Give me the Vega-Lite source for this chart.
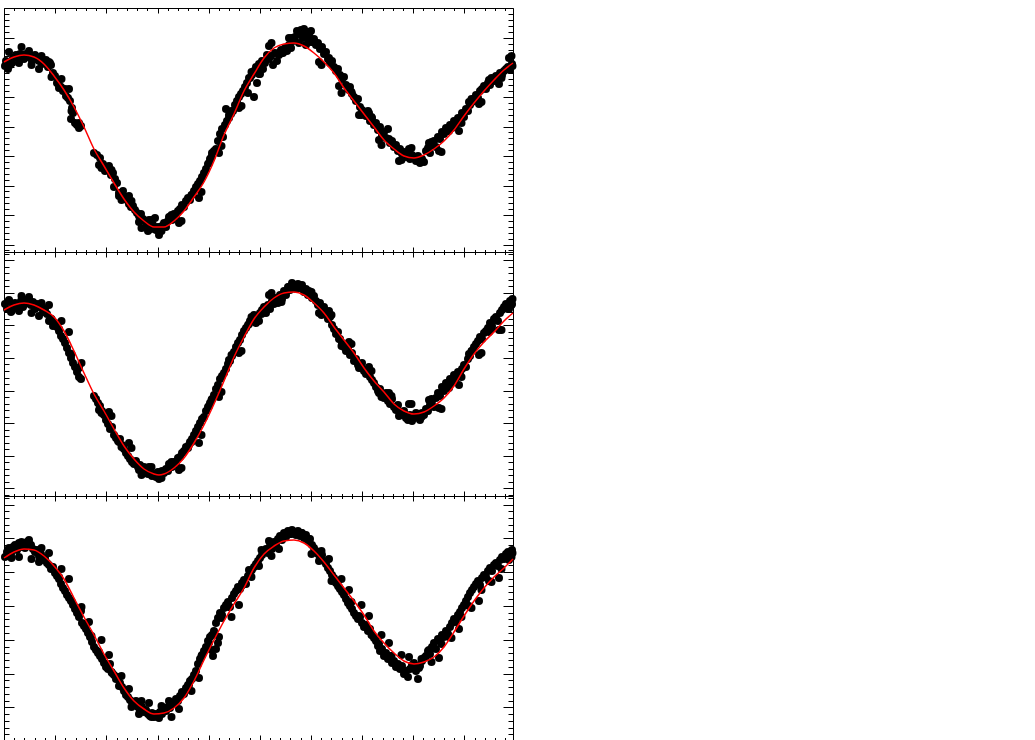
{
"$schema": "https://vega.github.io/schema/vega-lite/v6.json",
"padding": {"left": 0, "top": 7, "right": 0, "bottom": 0},
"bounds": "flush",
"spacing": 0,
"background": "white",
"config": {"view": {"stroke": "#000", "strokeWidth": 1}, "axis": {"domain": false, "labels": false, "grid": false, "ticks": true, "tickColor": "#000", "tickWidth": 1, "title": null}},
"datasets": {
"p1": [{"x":0.002,"y":1.86},{"x":0.004,"y":1.91},{"x":0.008,"y":1.83},{"x":0.012,"y":1.87},{"x":0.016,"y":1.89},{"x":0.018,"y":1.94},{"x":0.024,"y":1.97},{"x":0.028,"y":1.94},{"x":0.032,"y":1.98},{"x":0.036,"y":1.95},{"x":0.040,"y":1.93},{"x":0.044,"y":1.98},{"x":0.048,"y":1.95},{"x":0.052,"y":1.96},{"x":0.056,"y":1.91},{"x":0.060,"y":1.93},{"x":0.062,"y":1.97},{"x":0.066,"y":1.94},{"x":0.070,"y":1.91},{"x":0.074,"y":1.93},{"x":0.076,"y":1.88},{"x":0.080,"y":1.90},{"x":0.084,"y":1.92},{"x":0.088,"y":1.85},{"x":0.092,"y":1.89},{"x":0.094,"y":1.87},
{"x":0.098,"y":1.79},{"x":0.102,"y":1.76},{"x":0.106,"y":1.69},{"x":0.110,"y":1.67},{"x":0.114,"y":1.65},{"x":0.118,"y":1.61},{"x":0.122,"y":1.63},{"x":0.124,"y":1.56},{"x":0.128,"y":1.54},{"x":0.132,"y":1.51},{"x":0.136,"y":1.44},{"x":0.138,"y":1.39},{"x":0.134,"y":1.33},{"x":0.142,"y":1.29},{"x":0.146,"y":1.27},{"x":0.150,"y":1.24},{"x":0.154,"y":1.26},
{"x":0.180,"y":0.99},{"x":0.186,"y":0.97},{"x":0.192,"y":0.94},{"x":0.198,"y":0.88},{"x":0.202,"y":0.81},{"x":0.208,"y":0.83},{"x":0.214,"y":0.77},{"x":0.218,"y":0.79},{"x":0.222,"y":0.73},{"x":0.226,"y":0.69},{"x":0.220,"y":0.65},{"x":0.230,"y":0.59},{"x":0.234,"y":0.56},{"x":0.238,"y":0.61},{"x":0.242,"y":0.54},{"x":0.246,"y":0.52},{"x":0.250,"y":0.48},{"x":0.254,"y":0.45},{"x":0.258,"y":0.46},{"x":0.262,"y":0.42},{"x":0.266,"y":0.39},{"x":0.270,"y":0.36},{"x":0.274,"y":0.38},{"x":0.278,"y":0.33},{"x":0.282,"y":0.31},{"x":0.286,"y":0.28},{"x":0.290,"y":0.25},{"x":0.288,"y":0.21},{"x":0.294,"y":0.23},{"x":0.298,"y":0.27},{"x":0.302,"y":0.34},{"x":0.304,"y":0.22},{"x":0.308,"y":0.25},
{"x":0.312,"y":0.23},{"x":0.316,"y":0.26},{"x":0.320,"y":0.29},{"x":0.324,"y":0.25},{"x":0.328,"y":0.31},{"x":0.332,"y":0.35},{"x":0.336,"y":0.32},{"x":0.340,"y":0.38},{"x":0.344,"y":0.36},{"x":0.348,"y":0.41},{"x":0.352,"y":0.43},{"x":0.356,"y":0.47},{"x":0.360,"y":0.45},{"x":0.364,"y":0.51},{"x":0.368,"y":0.54},{"x":0.372,"y":0.52},{"x":0.376,"y":0.57},{"x":0.380,"y":0.61},{"x":0.384,"y":0.65},{"x":0.388,"y":0.68},{"x":0.392,"y":0.71},{"x":0.396,"y":0.75},{"x":0.400,"y":0.79},{"x":0.404,"y":0.83},{"x":0.408,"y":0.88},{"x":0.412,"y":0.93},{"x":0.416,"y":0.99},{"x":0.420,"y":1.01},{"x":0.424,"y":1.03},
{"x":0.428,"y":1.11},{"x":0.432,"y":1.18},{"x":0.436,"y":1.23},{"x":0.438,"y":1.15},{"x":0.442,"y":1.27},{"x":0.446,"y":1.31},{"x":0.450,"y":1.34},{"x":0.454,"y":1.38},{"x":0.458,"y":1.41},{"x":0.444,"y":1.43},{"x":0.462,"y":1.47},{"x":0.466,"y":1.51},{"x":0.470,"y":1.55},{"x":0.474,"y":1.58},{"x":0.478,"y":1.61},{"x":0.482,"y":1.65},{"x":0.486,"y":1.69},{"x":0.488,"y":1.59},{"x":0.492,"y":1.74},{"x":0.496,"y":1.77},{"x":0.500,"y":1.81},{"x":0.500,"y":1.55},{"x":0.504,"y":1.85},{"x":0.506,"y":1.69},{"x":0.510,"y":1.88},{"x":0.512,"y":1.78},{"x":0.516,"y":1.91},{"x":0.518,"y":1.83},
{"x":0.522,"y":1.89},{"x":0.526,"y":1.97},{"x":0.530,"y":1.93},{"x":0.534,"y":1.96},{"x":0.538,"y":1.87},{"x":0.542,"y":1.99},{"x":0.546,"y":1.91},{"x":0.550,"y":1.97},{"x":0.554,"y":2.02},{"x":0.558,"y":1.99},{"x":0.562,"y":2.04},{"x":0.566,"y":2.01},{"x":0.570,"y":2.07},{"x":0.574,"y":2.04},{"x":0.578,"y":2.11},{"x":0.582,"y":2.15},{"x":0.586,"y":2.21},{"x":0.590,"y":2.09},{"x":0.594,"y":2.22},{"x":0.598,"y":2.14},{"x":0.600,"y":2.23},{"x":0.604,"y":2.07},{"x":0.606,"y":2.20},{"x":0.610,"y":2.17},{"x":0.614,"y":2.21},{"x":0.616,"y":2.10},{"x":0.620,"y":2.13},
{"x":0.624,"y":2.07},{"x":0.628,"y":2.09},{"x":0.632,"y":2.03},{"x":0.636,"y":2.05},{"x":0.640,"y":1.98},{"x":0.644,"y":2.00},{"x":0.648,"y":1.93},{"x":0.652,"y":1.89},{"x":0.656,"y":1.91},{"x":0.660,"y":1.85},{"x":0.664,"y":1.81},{"x":0.668,"y":1.83},{"x":0.672,"y":1.77},{"x":0.676,"y":1.73},{"x":0.680,"y":1.75},{"x":0.684,"y":1.67},{"x":0.688,"y":1.63},{"x":0.692,"y":1.65},{"x":0.696,"y":1.58},{"x":0.700,"y":1.55},{"x":0.704,"y":1.51},{"x":0.708,"y":1.53},{"x":0.712,"y":1.45},{"x":0.716,"y":1.42},{"x":0.720,"y":1.39},
{"x":0.724,"y":1.36},{"x":0.728,"y":1.41},{"x":0.732,"y":1.31},{"x":0.736,"y":1.34},{"x":0.740,"y":1.27},{"x":0.744,"y":1.29},{"x":0.748,"y":1.22},{"x":0.752,"y":1.25},{"x":0.756,"y":1.17},{"x":0.760,"y":1.20},{"x":0.764,"y":1.14},{"x":0.768,"y":1.23},{"x":0.772,"y":1.09},{"x":0.776,"y":1.11},{"x":0.780,"y":1.05},{"x":0.784,"y":1.07},{"x":0.788,"y":1.01},{"x":0.792,"y":1.03},{"x":0.796,"y":0.98},{"x":0.800,"y":1.00},{"x":0.804,"y":0.95},{"x":0.808,"y":0.99},{"x":0.812,"y":0.93},{"x":0.816,"y":0.97},{"x":0.820,"y":0.94},{"x":0.824,"y":0.91},{"x":0.828,"y":0.96},{"x":0.832,"y":0.89},{"x":0.836,"y":0.93},{"x":0.840,"y":0.90},
{"x":0.844,"y":1.01},{"x":0.848,"y":1.04},{"x":0.852,"y":0.99},{"x":0.856,"y":1.07},{"x":0.860,"y":1.11},{"x":0.864,"y":1.05},{"x":0.868,"y":1.15},{"x":0.872,"y":1.13},{"x":0.876,"y":1.20},{"x":0.880,"y":1.18},{"x":0.884,"y":1.24},{"x":0.888,"y":1.21},{"x":0.892,"y":1.27},{"x":0.896,"y":1.24},{"x":0.900,"y":1.31},{"x":0.904,"y":1.27},{"x":0.908,"y":1.34},{"x":0.912,"y":1.31},{"x":0.916,"y":1.39},{"x":0.920,"y":1.35},{"x":0.924,"y":1.43},{"x":0.928,"y":1.41},{"x":0.932,"y":1.47},{"x":0.936,"y":1.50},{"x":0.940,"y":1.53},
{"x":0.944,"y":1.57},{"x":0.948,"y":1.54},{"x":0.952,"y":1.61},{"x":0.956,"y":1.63},{"x":0.960,"y":1.66},{"x":0.964,"y":1.63},{"x":0.968,"y":1.69},{"x":0.972,"y":1.67},{"x":0.976,"y":1.73},{"x":0.980,"y":1.71},{"x":0.984,"y":1.76},{"x":0.988,"y":1.74},{"x":0.992,"y":1.79},{"x":0.996,"y":1.77},{"x":1.000,"y":1.81},{"x":1.004,"y":1.83},{"x":1.008,"y":1.85},{"x":1.012,"y":1.82},{"x":1.016,"y":1.88},{"x":1.017,"y":1.86},
{"x":0.01,"y":2.00},{"x":0.03,"y":1.89},{"x":0.05,"y":2.01},{"x":0.07,"y":1.83},{"x":0.09,"y":1.90},{"x":0.11,"y":1.64},{"x":0.13,"y":1.63},{"x":0.15,"y":1.29},{"x":0.19,"y":0.87},{"x":0.21,"y":0.86},{"x":0.23,"y":0.56},{"x":0.25,"y":0.56},{"x":0.27,"y":0.30},{"x":0.29,"y":0.32},{"x":0.31,"y":0.17},{"x":0.33,"y":0.35},{"x":0.35,"y":0.29},{"x":0.37,"y":0.53},{"x":0.39,"y":0.54},{"x":0.41,"y":0.89},{"x":0.43,"y":0.99},{"x":0.45,"y":1.37},{"x":0.47,"y":1.44},{"x":0.49,"y":1.74},{"x":0.51,"y":1.78},{"x":0.53,"y":2.06},{"x":0.55,"y":1.99},{"x":0.57,"y":2.14},{"x":0.59,"y":2.20},{"x":0.61,"y":2.11},{"x":0.63,"y":1.90},{"x":0.65,"y":1.94},{"x":0.67,"y":1.66},{"x":0.69,"y":1.62},{"x":0.71,"y":1.37},{"x":0.73,"y":1.39},{"x":0.75,"y":1.12},{"x":0.77,"y":1.13},{"x":0.79,"y":0.91},{"x":0.81,"y":1.03},{"x":0.83,"y":0.91},{"x":0.85,"y":1.09},{"x":0.87,"y":1.01},{"x":0.89,"y":1.21},{"x":0.91,"y":1.21},{"x":0.93,"y":1.50},{"x":0.95,"y":1.48},{"x":0.97,"y":1.72},{"x":0.99,"y":1.68},{"x":1.01,"y":1.94},
{"x":0.015,"y":1.89},{"x":0.035,"y":2.05},{"x":0.055,"y":1.87},{"x":0.075,"y":1.96},{"x":0.095,"y":1.75},{"x":0.115,"y":1.73},{"x":0.135,"y":1.41},{"x":0.195,"y":0.84},{"x":0.215,"y":0.82},{"x":0.235,"y":0.52},{"x":0.255,"y":0.51},{"x":0.275,"y":0.24},{"x":0.295,"y":0.32},{"x":0.315,"y":0.21},{"x":0.335,"y":0.37},{"x":0.355,"y":0.31},{"x":0.375,"y":0.57},{"x":0.395,"y":0.60},{"x":0.415,"y":0.95},{"x":0.435,"y":1.06},{"x":0.455,"y":1.41},{"x":0.475,"y":1.46},{"x":0.495,"y":1.80},{"x":0.515,"y":1.86},{"x":0.535,"y":2.09},{"x":0.555,"y":1.99},{"x":0.575,"y":2.14},{"x":0.595,"y":2.17},{"x":0.615,"y":2.10},{"x":0.635,"y":1.87},{"x":0.655,"y":1.90},{"x":0.675,"y":1.59},{"x":0.695,"y":1.60},{"x":0.715,"y":1.37},{"x":0.735,"y":1.35},{"x":0.755,"y":1.07},{"x":0.775,"y":1.10},{"x":0.795,"y":0.92},{"x":0.815,"y":1.04},{"x":0.835,"y":0.91},{"x":0.855,"y":1.10},{"x":0.875,"y":1.00},{"x":0.895,"y":1.25},{"x":0.915,"y":1.29},{"x":0.935,"y":1.53},{"x":0.955,"y":1.50},{"x":0.975,"y":1.74},{"x":0.995,"y":1.74},{"x":1.015,"y":1.96}],
"p2": [{"x":0.002,"y":1.92},{"x":0.006,"y":1.87},{"x":0.010,"y":1.95},{"x":0.014,"y":1.84},{"x":0.018,"y":1.90},{"x":0.022,"y":1.93},{"x":0.026,"y":1.88},{"x":0.030,"y":1.91},{"x":0.034,"y":1.95},{"x":0.038,"y":1.89},{"x":0.042,"y":1.92},{"x":0.046,"y":1.96},{"x":0.050,"y":1.99},{"x":0.054,"y":1.91},{"x":0.058,"y":1.94},{"x":0.062,"y":1.87},{"x":0.066,"y":1.92},{"x":0.070,"y":1.89},{"x":0.074,"y":1.91},{"x":0.078,"y":1.84},{"x":0.082,"y":1.87},{"x":0.086,"y":1.82},{"x":0.090,"y":1.75},{"x":0.094,"y":1.77},{"x":0.098,"y":1.70},
{"x":0.102,"y":1.73},{"x":0.106,"y":1.69},{"x":0.110,"y":1.65},{"x":0.114,"y":1.60},{"x":0.118,"y":1.57},{"x":0.122,"y":1.53},{"x":0.126,"y":1.48},{"x":0.130,"y":1.43},{"x":0.134,"y":1.38},{"x":0.138,"y":1.33},{"x":0.142,"y":1.29},{"x":0.146,"y":1.24},{"x":0.150,"y":1.19},{"x":0.154,"y":1.17},
{"x":0.180,"y":1.00},{"x":0.184,"y":0.97},{"x":0.188,"y":0.93},{"x":0.192,"y":0.90},{"x":0.196,"y":0.85},{"x":0.200,"y":0.81},{"x":0.204,"y":0.76},{"x":0.208,"y":0.72},{"x":0.212,"y":0.67},{"x":0.216,"y":0.69},{"x":0.220,"y":0.61},{"x":0.224,"y":0.58},{"x":0.228,"y":0.55},{"x":0.232,"y":0.57},{"x":0.236,"y":0.51},{"x":0.240,"y":0.47},{"x":0.244,"y":0.43},{"x":0.248,"y":0.40},{"x":0.252,"y":0.37},{"x":0.256,"y":0.34},{"x":0.260,"y":0.32},{"x":0.264,"y":0.35},{"x":0.268,"y":0.29},{"x":0.272,"y":0.31},{"x":0.276,"y":0.27},{"x":0.280,"y":0.29},{"x":0.284,"y":0.25},{"x":0.288,"y":0.22},{"x":0.292,"y":0.24},{"x":0.296,"y":0.20},{"x":0.300,"y":0.22},
{"x":0.304,"y":0.19},{"x":0.308,"y":0.24},{"x":0.312,"y":0.21},{"x":0.316,"y":0.25},{"x":0.320,"y":0.23},{"x":0.324,"y":0.27},{"x":0.328,"y":0.25},{"x":0.332,"y":0.30},{"x":0.336,"y":0.29},{"x":0.340,"y":0.34},{"x":0.344,"y":0.33},{"x":0.348,"y":0.38},{"x":0.352,"y":0.39},{"x":0.356,"y":0.43},{"x":0.360,"y":0.45},{"x":0.364,"y":0.49},{"x":0.368,"y":0.48},{"x":0.372,"y":0.54},{"x":0.376,"y":0.57},{"x":0.380,"y":0.61},{"x":0.384,"y":0.65},{"x":0.388,"y":0.69},{"x":0.392,"y":0.73},{"x":0.396,"y":0.77},{"x":0.400,"y":0.79},{"x":0.404,"y":0.85},{"x":0.408,"y":0.89},{"x":0.412,"y":0.93},{"x":0.416,"y":0.97},{"x":0.420,"y":1.01},{"x":0.424,"y":1.07},
{"x":0.428,"y":1.11},{"x":0.432,"y":1.17},{"x":0.436,"y":1.20},{"x":0.440,"y":1.23},{"x":0.444,"y":1.27},{"x":0.448,"y":1.32},{"x":0.452,"y":1.35},{"x":0.456,"y":1.40},{"x":0.460,"y":1.44},{"x":0.464,"y":1.49},{"x":0.468,"y":1.53},{"x":0.472,"y":1.56},{"x":0.476,"y":1.61},{"x":0.480,"y":1.65},{"x":0.484,"y":1.68},{"x":0.488,"y":1.71},{"x":0.492,"y":1.75},{"x":0.496,"y":1.78},{"x":0.500,"y":1.81},{"x":0.504,"y":1.73},{"x":0.508,"y":1.77},{"x":0.512,"y":1.83},{"x":0.516,"y":1.86},{"x":0.520,"y":1.89},
{"x":0.524,"y":1.83},{"x":0.528,"y":1.91},{"x":0.532,"y":1.87},{"x":0.536,"y":1.95},{"x":0.540,"y":1.92},{"x":0.544,"y":1.98},{"x":0.548,"y":1.93},{"x":0.552,"y":2.01},{"x":0.556,"y":1.97},{"x":0.560,"y":2.05},{"x":0.564,"y":2.01},{"x":0.568,"y":2.09},{"x":0.572,"y":2.06},{"x":0.576,"y":2.13},{"x":0.580,"y":2.10},{"x":0.584,"y":2.07},{"x":0.588,"y":2.12},{"x":0.592,"y":2.08},{"x":0.596,"y":2.11},{"x":0.600,"y":2.04},{"x":0.604,"y":2.07},{"x":0.608,"y":2.01},{"x":0.612,"y":2.04},{"x":0.616,"y":1.98},{"x":0.620,"y":2.00},
{"x":0.624,"y":1.95},{"x":0.628,"y":1.91},{"x":0.632,"y":1.93},{"x":0.636,"y":1.87},{"x":0.640,"y":1.89},{"x":0.644,"y":1.82},{"x":0.648,"y":1.77},{"x":0.652,"y":1.79},{"x":0.656,"y":1.71},{"x":0.660,"y":1.67},{"x":0.664,"y":1.62},{"x":0.668,"y":1.64},{"x":0.672,"y":1.57},{"x":0.676,"y":1.53},{"x":0.680,"y":1.49},{"x":0.684,"y":1.45},{"x":0.688,"y":1.47},{"x":0.692,"y":1.41},{"x":0.696,"y":1.43},{"x":0.700,"y":1.35},{"x":0.704,"y":1.37},{"x":0.708,"y":1.31},{"x":0.712,"y":1.29},{"x":0.716,"y":1.33},{"x":0.720,"y":1.25},{"x":0.724,"y":1.22},{"x":0.728,"y":1.27},{"x":0.732,"y":1.19},{"x":0.736,"y":1.16},{"x":0.740,"y":1.13},
{"x":0.744,"y":1.09},{"x":0.748,"y":1.05},{"x":0.752,"y":1.07},{"x":0.756,"y":1.01},{"x":0.760,"y":0.98},{"x":0.764,"y":1.03},{"x":0.768,"y":0.95},{"x":0.772,"y":0.92},{"x":0.776,"y":0.97},{"x":0.780,"y":0.89},{"x":0.784,"y":0.86},{"x":0.788,"y":0.91},{"x":0.792,"y":0.84},{"x":0.796,"y":0.81},{"x":0.800,"y":0.85},{"x":0.804,"y":0.78},{"x":0.808,"y":0.76},{"x":0.812,"y":0.81},{"x":0.816,"y":0.75},{"x":0.820,"y":0.78},{"x":0.824,"y":0.83},{"x":0.828,"y":0.79},{"x":0.832,"y":0.76},{"x":0.836,"y":0.83},{"x":0.840,"y":0.81},{"x":0.844,"y":0.87},{"x":0.848,"y":0.85},
{"x":0.852,"y":0.91},{"x":0.856,"y":0.95},{"x":0.860,"y":0.89},{"x":0.864,"y":0.98},{"x":0.868,"y":1.03},{"x":0.872,"y":1.00},{"x":0.876,"y":1.09},{"x":0.880,"y":1.05},{"x":0.884,"y":1.13},{"x":0.888,"y":1.10},{"x":0.892,"y":1.17},{"x":0.896,"y":1.14},{"x":0.900,"y":1.21},{"x":0.904,"y":1.18},{"x":0.908,"y":1.24},{"x":0.912,"y":1.22},{"x":0.916,"y":1.27},{"x":0.920,"y":1.31},{"x":0.924,"y":1.29},{"x":0.928,"y":1.37},{"x":0.932,"y":1.40},{"x":0.936,"y":1.45},{"x":0.940,"y":1.49},
{"x":0.944,"y":1.52},{"x":0.948,"y":1.55},{"x":0.952,"y":1.59},{"x":0.956,"y":1.57},{"x":0.960,"y":1.63},{"x":0.964,"y":1.65},{"x":0.968,"y":1.68},{"x":0.972,"y":1.73},{"x":0.976,"y":1.70},{"x":0.980,"y":1.77},{"x":0.984,"y":1.79},{"x":0.988,"y":1.75},{"x":0.992,"y":1.83},{"x":0.996,"y":1.86},{"x":1.000,"y":1.89},{"x":1.004,"y":1.92},{"x":1.008,"y":1.87},{"x":1.012,"y":1.95},{"x":1.016,"y":1.92},{"x":1.017,"y":1.97},
{"x":0.01,"y":1.96},{"x":0.03,"y":1.85},{"x":0.05,"y":1.97},{"x":0.07,"y":1.80},{"x":0.09,"y":1.91},{"x":0.11,"y":1.67},{"x":0.13,"y":1.64},{"x":0.15,"y":1.28},{"x":0.19,"y":0.86},{"x":0.21,"y":0.84},{"x":0.23,"y":0.54},{"x":0.25,"y":0.53},{"x":0.27,"y":0.26},{"x":0.29,"y":0.29},{"x":0.31,"y":0.17},{"x":0.33,"y":0.32},{"x":0.35,"y":0.26},{"x":0.37,"y":0.51},{"x":0.39,"y":0.53},{"x":0.41,"y":0.90},{"x":0.43,"y":0.99},{"x":0.45,"y":1.36},{"x":0.47,"y":1.43},{"x":0.49,"y":1.72},{"x":0.51,"y":1.75},{"x":0.53,"y":2.01},{"x":0.55,"y":1.94},{"x":0.57,"y":2.09},{"x":0.59,"y":2.11},{"x":0.61,"y":2.05},{"x":0.63,"y":1.83},{"x":0.65,"y":1.85},{"x":0.67,"y":1.57},{"x":0.69,"y":1.54},{"x":0.71,"y":1.28},{"x":0.73,"y":1.29},{"x":0.75,"y":1.03},{"x":0.77,"y":1.03},{"x":0.79,"y":0.80},{"x":0.81,"y":0.92},{"x":0.83,"y":0.78},{"x":0.85,"y":0.96},{"x":0.87,"y":0.88},{"x":0.89,"y":1.08},{"x":0.91,"y":1.11},{"x":0.93,"y":1.42},{"x":0.95,"y":1.41},{"x":0.97,"y":1.64},{"x":0.99,"y":1.66},{"x":1.01,"y":1.87},
{"x":0.015,"y":1.85},{"x":0.035,"y":2.00},{"x":0.055,"y":1.83},{"x":0.075,"y":1.93},{"x":0.095,"y":1.77},{"x":0.115,"y":1.75},{"x":0.135,"y":1.42},{"x":0.155,"y":1.33},{"x":0.195,"y":0.83},{"x":0.215,"y":0.80},{"x":0.235,"y":0.49},{"x":0.255,"y":0.48},{"x":0.275,"y":0.21},{"x":0.295,"y":0.29},{"x":0.315,"y":0.18},{"x":0.335,"y":0.34},{"x":0.355,"y":0.28},{"x":0.375,"y":0.54},{"x":0.395,"y":0.61},{"x":0.415,"y":0.96},{"x":0.435,"y":1.04},{"x":0.455,"y":1.41},{"x":0.475,"y":1.45},{"x":0.495,"y":1.79},{"x":0.515,"y":1.82},{"x":0.535,"y":2.03},{"x":0.555,"y":1.94},{"x":0.575,"y":2.09},{"x":0.595,"y":2.08},{"x":0.615,"y":2.04},{"x":0.635,"y":1.81},{"x":0.655,"y":1.81},{"x":0.675,"y":1.50},{"x":0.695,"y":1.52},{"x":0.715,"y":1.28},{"x":0.735,"y":1.25},{"x":0.755,"y":0.99},{"x":0.775,"y":1.00},{"x":0.795,"y":0.81},{"x":0.815,"y":0.92},{"x":0.835,"y":0.79},{"x":0.855,"y":0.97},{"x":0.875,"y":0.87},{"x":0.895,"y":1.13},{"x":0.915,"y":1.19},{"x":0.935,"y":1.45},{"x":0.955,"y":1.43},{"x":0.975,"y":1.67},{"x":0.995,"y":1.66},{"x":1.015,"y":1.91}],
"p3": [{"x":0.002,"y":1.83},{"x":0.006,"y":1.88},{"x":0.010,"y":1.91},{"x":0.014,"y":1.86},{"x":0.018,"y":1.93},{"x":0.022,"y":1.95},{"x":0.026,"y":1.90},{"x":0.030,"y":1.97},{"x":0.034,"y":1.93},{"x":0.038,"y":1.96},{"x":0.042,"y":1.92},{"x":0.046,"y":1.98},{"x":0.050,"y":2.00},{"x":0.054,"y":1.95},{"x":0.058,"y":1.91},{"x":0.062,"y":1.88},{"x":0.066,"y":1.90},{"x":0.070,"y":1.84},{"x":0.074,"y":1.86},{"x":0.078,"y":1.80},{"x":0.082,"y":1.82},{"x":0.086,"y":1.77},{"x":0.090,"y":1.75},{"x":0.094,"y":1.71},{"x":0.098,"y":1.73},
{"x":0.102,"y":1.67},{"x":0.106,"y":1.64},{"x":0.110,"y":1.61},{"x":0.114,"y":1.56},{"x":0.118,"y":1.52},{"x":0.122,"y":1.49},{"x":0.126,"y":1.45},{"x":0.130,"y":1.42},{"x":0.134,"y":1.39},{"x":0.138,"y":1.35},{"x":0.142,"y":1.31},{"x":0.146,"y":1.27},{"x":0.150,"y":1.23},{"x":0.154,"y":1.29},{"x":0.156,"y":1.17},{"x":0.160,"y":1.14},{"x":0.164,"y":1.11},{"x":0.168,"y":1.07},{"x":0.172,"y":1.03},{"x":0.176,"y":0.98},{"x":0.180,"y":0.93},{"x":0.184,"y":0.90},{"x":0.188,"y":0.87},{"x":0.192,"y":0.84},{"x":0.196,"y":0.81},
{"x":0.200,"y":0.77},{"x":0.204,"y":0.73},{"x":0.208,"y":0.71},{"x":0.212,"y":0.76},{"x":0.216,"y":0.67},{"x":0.220,"y":0.65},{"x":0.224,"y":0.61},{"x":0.228,"y":0.63},{"x":0.232,"y":0.57},{"x":0.236,"y":0.53},{"x":0.240,"y":0.49},{"x":0.244,"y":0.45},{"x":0.248,"y":0.43},{"x":0.252,"y":0.40},{"x":0.256,"y":0.38},{"x":0.260,"y":0.36},{"x":0.264,"y":0.39},{"x":0.268,"y":0.33},{"x":0.272,"y":0.30},{"x":0.276,"y":0.33},{"x":0.280,"y":0.28},{"x":0.284,"y":0.30},{"x":0.288,"y":0.26},{"x":0.292,"y":0.24},{"x":0.296,"y":0.27},{"x":0.300,"y":0.23},
{"x":0.304,"y":0.26},{"x":0.308,"y":0.23},{"x":0.312,"y":0.28},{"x":0.316,"y":0.26},{"x":0.320,"y":0.30},{"x":0.324,"y":0.29},{"x":0.328,"y":0.33},{"x":0.332,"y":0.32},{"x":0.336,"y":0.37},{"x":0.340,"y":0.36},{"x":0.344,"y":0.41},{"x":0.348,"y":0.39},{"x":0.352,"y":0.44},{"x":0.356,"y":0.48},{"x":0.360,"y":0.46},{"x":0.364,"y":0.52},{"x":0.368,"y":0.55},{"x":0.372,"y":0.59},{"x":0.376,"y":0.61},{"x":0.380,"y":0.65},{"x":0.384,"y":0.69},{"x":0.388,"y":0.76},{"x":0.392,"y":0.81},{"x":0.396,"y":0.85},{"x":0.400,"y":0.89},{"x":0.404,"y":0.93},{"x":0.408,"y":0.99},{"x":0.412,"y":1.03},{"x":0.416,"y":1.05},{"x":0.420,"y":1.09},{"x":0.424,"y":0.91},{"x":0.428,"y":0.97},{"x":0.418,"y":0.84},
{"x":0.424,"y":1.17},{"x":0.428,"y":1.22},{"x":0.432,"y":1.27},{"x":0.436,"y":1.25},{"x":0.440,"y":1.32},{"x":0.444,"y":1.35},{"x":0.448,"y":1.38},{"x":0.452,"y":1.33},{"x":0.456,"y":1.42},{"x":0.460,"y":1.46},{"x":0.464,"y":1.49},{"x":0.468,"y":1.53},{"x":0.472,"y":1.51},{"x":0.476,"y":1.57},{"x":0.480,"y":1.60},{"x":0.484,"y":1.56},{"x":0.488,"y":1.64},{"x":0.492,"y":1.67},{"x":0.496,"y":1.70},{"x":0.500,"y":1.73},{"x":0.504,"y":1.76},{"x":0.508,"y":1.79},{"x":0.512,"y":1.82},{"x":0.516,"y":1.85},{"x":0.520,"y":1.88},
{"x":0.524,"y":1.91},{"x":0.528,"y":1.87},{"x":0.532,"y":1.94},{"x":0.536,"y":1.91},{"x":0.540,"y":1.98},{"x":0.544,"y":1.95},{"x":0.548,"y":2.01},{"x":0.552,"y":2.04},{"x":0.556,"y":2.00},{"x":0.560,"y":2.07},{"x":0.564,"y":2.03},{"x":0.568,"y":2.09},{"x":0.572,"y":2.06},{"x":0.576,"y":2.10},{"x":0.580,"y":2.08},{"x":0.584,"y":2.05},{"x":0.588,"y":2.09},{"x":0.592,"y":2.04},{"x":0.596,"y":2.07},{"x":0.600,"y":2.02},{"x":0.604,"y":2.05},{"x":0.608,"y":1.99},{"x":0.612,"y":2.01},{"x":0.616,"y":1.95},{"x":0.620,"y":1.92},
{"x":0.624,"y":1.89},{"x":0.628,"y":1.86},{"x":0.632,"y":1.83},{"x":0.636,"y":1.85},{"x":0.640,"y":1.79},{"x":0.644,"y":1.76},{"x":0.648,"y":1.72},{"x":0.652,"y":1.69},{"x":0.656,"y":1.65},{"x":0.660,"y":1.62},{"x":0.664,"y":1.57},{"x":0.668,"y":1.54},{"x":0.672,"y":1.51},{"x":0.676,"y":1.48},{"x":0.680,"y":1.45},{"x":0.684,"y":1.41},{"x":0.688,"y":1.37},{"x":0.692,"y":1.34},{"x":0.696,"y":1.31},{"x":0.700,"y":1.27},{"x":0.704,"y":1.24},{"x":0.708,"y":1.21},{"x":0.712,"y":1.23},{"x":0.716,"y":1.17},{"x":0.720,"y":1.13},{"x":0.724,"y":1.15},{"x":0.728,"y":1.09},{"x":0.732,"y":1.11},{"x":0.736,"y":1.05},{"x":0.740,"y":1.02},
{"x":0.744,"y":0.99},{"x":0.748,"y":0.94},{"x":0.752,"y":0.89},{"x":0.756,"y":0.91},{"x":0.760,"y":0.84},{"x":0.764,"y":0.87},{"x":0.768,"y":0.81},{"x":0.772,"y":0.84},{"x":0.776,"y":0.77},{"x":0.780,"y":0.79},{"x":0.784,"y":0.73},{"x":0.788,"y":0.76},{"x":0.792,"y":0.71},{"x":0.796,"y":0.74},{"x":0.800,"y":0.66},{"x":0.804,"y":0.69},{"x":0.808,"y":0.63},{"x":0.812,"y":0.71},{"x":0.816,"y":0.75},{"x":0.820,"y":0.77},{"x":0.824,"y":0.69},{"x":0.828,"y":0.61},{"x":0.832,"y":0.74},{"x":0.836,"y":0.79},{"x":0.840,"y":0.82},
{"x":0.844,"y":0.84},{"x":0.848,"y":0.89},{"x":0.852,"y":0.86},{"x":0.856,"y":0.93},{"x":0.860,"y":0.97},{"x":0.864,"y":0.91},{"x":0.868,"y":1.01},{"x":0.872,"y":0.99},{"x":0.876,"y":1.05},{"x":0.880,"y":1.03},{"x":0.884,"y":1.09},{"x":0.888,"y":1.06},{"x":0.892,"y":1.13},{"x":0.896,"y":1.17},{"x":0.900,"y":1.21},{"x":0.904,"y":1.18},{"x":0.908,"y":1.25},{"x":0.912,"y":1.28},{"x":0.916,"y":1.32},{"x":0.920,"y":1.35},{"x":0.924,"y":1.39},{"x":0.928,"y":1.43},{"x":0.932,"y":1.47},{"x":0.936,"y":1.50},{"x":0.940,"y":1.53},
{"x":0.944,"y":1.56},{"x":0.948,"y":1.59},{"x":0.952,"y":1.55},{"x":0.956,"y":1.62},{"x":0.960,"y":1.65},{"x":0.964,"y":1.63},{"x":0.968,"y":1.69},{"x":0.972,"y":1.72},{"x":0.976,"y":1.69},{"x":0.980,"y":1.75},{"x":0.984,"y":1.77},{"x":0.988,"y":1.74},{"x":0.992,"y":1.80},{"x":0.996,"y":1.83},{"x":1.000,"y":1.81},{"x":1.004,"y":1.86},{"x":1.008,"y":1.88},{"x":1.012,"y":1.85},{"x":1.016,"y":1.90},{"x":1.017,"y":1.87},
{"x":0.01,"y":1.92},{"x":0.03,"y":1.83},{"x":0.05,"y":1.96},{"x":0.07,"y":1.78},{"x":0.09,"y":1.87},{"x":0.11,"y":1.63},{"x":0.13,"y":1.61},{"x":0.15,"y":1.27},{"x":0.17,"y":1.18},{"x":0.19,"y":0.88},{"x":0.21,"y":0.85},{"x":0.23,"y":0.54},{"x":0.25,"y":0.51},{"x":0.27,"y":0.26},{"x":0.29,"y":0.37},{"x":0.31,"y":0.22},{"x":0.33,"y":0.39},{"x":0.35,"y":0.31},{"x":0.37,"y":0.55},{"x":0.39,"y":0.62},{"x":0.41,"y":0.97},{"x":0.43,"y":1.03},{"x":0.45,"y":1.33},{"x":0.47,"y":1.35},{"x":0.49,"y":1.70},{"x":0.51,"y":1.74},{"x":0.53,"y":1.99},{"x":0.55,"y":1.91},{"x":0.57,"y":2.06},{"x":0.59,"y":2.06},{"x":0.61,"y":2.01},{"x":0.63,"y":1.79},{"x":0.65,"y":1.81},{"x":0.67,"y":1.53},{"x":0.69,"y":1.50},{"x":0.71,"y":1.24},{"x":0.73,"y":1.24},{"x":0.75,"y":0.96},{"x":0.77,"y":0.97},{"x":0.79,"y":0.74},{"x":0.81,"y":0.83},{"x":0.83,"y":0.72},{"x":0.85,"y":0.90},{"x":0.87,"y":0.82},{"x":0.89,"y":1.03},{"x":0.91,"y":1.11},{"x":0.93,"y":1.34},{"x":0.95,"y":1.39},{"x":0.97,"y":1.59},{"x":0.99,"y":1.62},{"x":1.01,"y":1.80},
{"x":0.015,"y":1.82},{"x":0.035,"y":1.98},{"x":0.055,"y":1.81},{"x":0.075,"y":1.92},{"x":0.095,"y":1.73},{"x":0.115,"y":1.71},{"x":0.135,"y":1.39},{"x":0.155,"y":1.33},{"x":0.175,"y":1.04},{"x":0.195,"y":1.00},{"x":0.215,"y":0.68},{"x":0.235,"y":0.64},{"x":0.255,"y":0.33},{"x":0.275,"y":0.39},{"x":0.295,"y":0.23},{"x":0.315,"y":0.34},{"x":0.335,"y":0.23},{"x":0.355,"y":0.45},{"x":0.375,"y":0.49},{"x":0.395,"y":0.84},{"x":0.415,"y":0.90},{"x":0.435,"y":1.22},{"x":0.455,"y":1.23},{"x":0.475,"y":1.54},{"x":0.495,"y":1.63},{"x":0.515,"y":1.90},{"x":0.535,"y":1.84},{"x":0.555,"y":2.03},{"x":0.575,"y":2.06},{"x":0.595,"y":2.07},{"x":0.615,"y":1.86},{"x":0.635,"y":1.89},{"x":0.655,"y":1.59},{"x":0.675,"y":1.61},{"x":0.695,"y":1.38},{"x":0.715,"y":1.35},{"x":0.735,"y":1.05},{"x":0.755,"y":1.05},{"x":0.775,"y":0.84},{"x":0.795,"y":0.85},{"x":0.815,"y":0.72},{"x":0.835,"y":0.81},{"x":0.855,"y":0.78},{"x":0.875,"y":0.96},{"x":0.895,"y":1.02},{"x":0.915,"y":1.23},{"x":0.935,"y":1.32},{"x":0.955,"y":1.50},{"x":0.975,"y":1.58},{"x":0.995,"y":1.71},{"x":1.015,"y":1.83}],
"m1": [{"x":0,"y":1.90},{"x":0.02,"y":1.95},{"x":0.04,"y":1.97},{"x":0.06,"y":1.95},{"x":0.08,"y":1.88},{"x":0.10,"y":1.76},{"x":0.12,"y":1.62},{"x":0.14,"y":1.45},{"x":0.16,"y":1.25},{"x":0.18,"y":1.03},{"x":0.20,"y":0.86},{"x":0.22,"y":0.69},{"x":0.24,"y":0.53},{"x":0.26,"y":0.40},{"x":0.28,"y":0.31},{"x":0.30,"y":0.25},{"x":0.32,"y":0.25},{"x":0.34,"y":0.31},{"x":0.36,"y":0.41},{"x":0.38,"y":0.55},{"x":0.40,"y":0.70},{"x":0.42,"y":0.91},{"x":0.44,"y":1.17},{"x":0.46,"y":1.38},{"x":0.48,"y":1.61},{"x":0.50,"y":1.78},{"x":0.52,"y":1.94},{"x":0.54,"y":2.04},{"x":0.56,"y":2.08},{"x":0.58,"y":2.09},{"x":0.60,"y":2.06},{"x":0.62,"y":1.99},{"x":0.64,"y":1.90},{"x":0.66,"y":1.79},{"x":0.68,"y":1.64},{"x":0.70,"y":1.51},{"x":0.72,"y":1.38},{"x":0.74,"y":1.25},{"x":0.76,"y":1.12},{"x":0.78,"y":1.03},{"x":0.80,"y":0.96},{"x":0.82,"y":0.94},{"x":0.84,"y":0.97},{"x":0.86,"y":1.03},{"x":0.88,"y":1.11},{"x":0.90,"y":1.22},{"x":0.92,"y":1.36},{"x":0.94,"y":1.49},{"x":0.96,"y":1.61},{"x":0.98,"y":1.72},{"x":1.00,"y":1.82},{"x":1.018,"y":1.89}],
"m2": [{"x":0,"y":1.86},{"x":0.02,"y":1.91},{"x":0.04,"y":1.93},{"x":0.06,"y":1.91},{"x":0.08,"y":1.86},{"x":0.10,"y":1.79},{"x":0.12,"y":1.65},{"x":0.14,"y":1.45},{"x":0.16,"y":1.23},{"x":0.18,"y":1.02},{"x":0.20,"y":0.85},{"x":0.22,"y":0.67},{"x":0.24,"y":0.50},{"x":0.26,"y":0.37},{"x":0.28,"y":0.27},{"x":0.30,"y":0.22},{"x":0.31,"y":0.21},{"x":0.32,"y":0.22},{"x":0.34,"y":0.28},{"x":0.36,"y":0.38},{"x":0.38,"y":0.53},{"x":0.40,"y":0.71},{"x":0.42,"y":0.92},{"x":0.44,"y":1.15},{"x":0.46,"y":1.39},{"x":0.48,"y":1.59},{"x":0.50,"y":1.77},{"x":0.52,"y":1.89},{"x":0.54,"y":1.98},{"x":0.56,"y":2.03},{"x":0.58,"y":2.04},{"x":0.60,"y":2.01},{"x":0.62,"y":1.93},{"x":0.64,"y":1.83},{"x":0.66,"y":1.69},{"x":0.68,"y":1.56},{"x":0.70,"y":1.43},{"x":0.72,"y":1.28},{"x":0.74,"y":1.15},{"x":0.76,"y":1.04},{"x":0.78,"y":0.92},{"x":0.80,"y":0.85},{"x":0.82,"y":0.82},{"x":0.84,"y":0.84},{"x":0.86,"y":0.90},{"x":0.88,"y":0.98},{"x":0.90,"y":1.10},{"x":0.92,"y":1.27},{"x":0.94,"y":1.42},{"x":0.96,"y":1.54},{"x":0.98,"y":1.64},{"x":1.00,"y":1.75},{"x":1.018,"y":1.83}],
"m3": [{"x":0,"y":1.82},{"x":0.02,"y":1.88},{"x":0.04,"y":1.91},{"x":0.06,"y":1.90},{"x":0.08,"y":1.84},{"x":0.10,"y":1.74},{"x":0.12,"y":1.61},{"x":0.14,"y":1.42},{"x":0.16,"y":1.23},{"x":0.18,"y":1.05},{"x":0.20,"y":0.86},{"x":0.22,"y":0.69},{"x":0.24,"y":0.52},{"x":0.26,"y":0.39},{"x":0.28,"y":0.31},{"x":0.30,"y":0.26},{"x":0.32,"y":0.27},{"x":0.34,"y":0.32},{"x":0.36,"y":0.42},{"x":0.38,"y":0.59},{"x":0.40,"y":0.80},{"x":0.42,"y":1.00},{"x":0.44,"y":1.19},{"x":0.46,"y":1.36},{"x":0.48,"y":1.52},{"x":0.50,"y":1.72},{"x":0.52,"y":1.86},{"x":0.54,"y":1.94},{"x":0.56,"y":1.99},{"x":0.58,"y":2.00},{"x":0.60,"y":1.97},{"x":0.62,"y":1.89},{"x":0.64,"y":1.78},{"x":0.66,"y":1.65},{"x":0.68,"y":1.52},{"x":0.70,"y":1.39},{"x":0.72,"y":1.25},{"x":0.74,"y":1.09},{"x":0.76,"y":0.97},{"x":0.78,"y":0.87},{"x":0.80,"y":0.79},{"x":0.82,"y":0.76},{"x":0.84,"y":0.78},{"x":0.86,"y":0.83},{"x":0.88,"y":0.93},{"x":0.90,"y":1.08},{"x":0.92,"y":1.24},{"x":0.94,"y":1.39},{"x":0.96,"y":1.52},{"x":0.98,"y":1.63},{"x":1.00,"y":1.72},{"x":1.018,"y":1.81}]
},
"vconcat": [
{"width": 509, "height": 244,
 "layer": [
  {"data": {"name": "p1"}, "mark": {"type": "circle", "size": 64, "color": "#000", "opacity": 1},
   "encoding": {
    "x": {"field": "x", "type": "quantitative", "scale": {"domain": [0, 1.018], "nice": false, "zero": false},
     "axis": {"orient": "bottom", "values": [0,0.0205,0.0409,0.0614,0.0819,0.1023,0.1228,0.1432,0.1637,0.1842,0.2046,0.2251,0.2456,0.266,0.2865,0.307,0.3274,0.3479,0.3684,0.3888,0.4093,0.4297,0.4502,0.4707,0.4911,0.5116,0.5321,0.5525,0.573,0.5935,0.6139,0.6344,0.6549,0.6753,0.6958,0.7162,0.7367,0.7572,0.7776,0.7981,0.8186,0.839,0.8595,0.88,0.9004,0.9209,0.9413,0.9618,0.9823,1.0027],
      "tickSize": {"condition": {"test": "abs(datum.value/0.10232-round(datum.value/0.10232))<0.05", "value": -5}, "value": -2.5}}},
    "y": {"field": "y", "type": "quantitative", "scale": {"domain": [0, 2.44], "nice": false, "zero": false},
     "axis": {"orient": "left", "values": [0.016,0.075,0.134,0.193,0.252,0.311,0.37,0.429,0.488,0.547,0.606,0.665,0.724,0.783,0.842,0.901,0.96,1.019,1.078,1.137,1.196,1.255,1.314,1.373,1.432,1.491,1.55,1.609,1.668,1.727,1.786,1.845,1.904,1.963,2.022,2.081,2.14,2.199,2.258,2.317,2.376,2.435],
      "tickSize": {"condition": {"test": "abs((datum.value-0.075)/0.295-round((datum.value-0.075)/0.295))<0.05", "value": -10}, "value": -5}}}}},
  {"data": {"name": "m1"}, "mark": {"type": "line", "color": "#ff0000", "strokeWidth": 1.5, "interpolate": "monotone"},
   "encoding": {
    "x": {"field": "x", "type": "quantitative", "scale": {"domain": [0, 1.018], "nice": false, "zero": false},
     "axis": {"orient": "top", "values": [0,0.0205,0.0409,0.0614,0.0819,0.1023,0.1228,0.1432,0.1637,0.1842,0.2046,0.2251,0.2456,0.266,0.2865,0.307,0.3274,0.3479,0.3684,0.3888,0.4093,0.4297,0.4502,0.4707,0.4911,0.5116,0.5321,0.5525,0.573,0.5935,0.6139,0.6344,0.6549,0.6753,0.6958,0.7162,0.7367,0.7572,0.7776,0.7981,0.8186,0.839,0.8595,0.88,0.9004,0.9209,0.9413,0.9618,0.9823,1.0027],
      "tickSize": {"condition": {"test": "abs(datum.value/0.10232-round(datum.value/0.10232))<0.05", "value": -5}, "value": -2.5}}},
    "y": {"field": "y", "type": "quantitative", "scale": {"domain": [0, 2.44], "nice": false, "zero": false},
     "axis": {"orient": "right", "values": [0.016,0.075,0.134,0.193,0.252,0.311,0.37,0.429,0.488,0.547,0.606,0.665,0.724,0.783,0.842,0.901,0.96,1.019,1.078,1.137,1.196,1.255,1.314,1.373,1.432,1.491,1.55,1.609,1.668,1.727,1.786,1.845,1.904,1.963,2.022,2.081,2.14,2.199,2.258,2.317,2.376,2.435],
      "tickSize": {"condition": {"test": "abs((datum.value-0.075)/0.295-round((datum.value-0.075)/0.295))<0.05", "value": -10}, "value": -5}}}}}
 ],
 "resolve": {"scale": {"x": "independent", "y": "independent"}, "axis": {"x": "independent", "y": "independent"}}},
{"width": 509, "height": 244,
 "layer": [
  {"data": {"name": "p2"}, "mark": {"type": "circle", "size": 64, "color": "#000", "opacity": 1},
   "encoding": {
    "x": {"field": "x", "type": "quantitative", "scale": {"domain": [0, 1.018], "nice": false, "zero": false},
     "axis": {"orient": "bottom", "values": [0,0.0205,0.0409,0.0614,0.0819,0.1023,0.1228,0.1432,0.1637,0.1842,0.2046,0.2251,0.2456,0.266,0.2865,0.307,0.3274,0.3479,0.3684,0.3888,0.4093,0.4297,0.4502,0.4707,0.4911,0.5116,0.5321,0.5525,0.573,0.5935,0.6139,0.6344,0.6549,0.6753,0.6958,0.7162,0.7367,0.7572,0.7776,0.7981,0.8186,0.839,0.8595,0.88,0.9004,0.9209,0.9413,0.9618,0.9823,1.0027],
      "tickSize": {"condition": {"test": "abs(datum.value/0.10232-round(datum.value/0.10232))<0.05", "value": -5}, "value": -2.5}}},
    "y": {"field": "y", "type": "quantitative", "scale": {"domain": [0, 2.44], "nice": false, "zero": false},
     "axis": {"orient": "left", "values": [0.012,0.077,0.142,0.207,0.273,0.338,0.403,0.468,0.533,0.599,0.664,0.729,0.794,0.859,0.925,0.99,1.055,1.12,1.185,1.251,1.316,1.381,1.446,1.511,1.577,1.642,1.707,1.772,1.837,1.903,1.968,2.033,2.098,2.163,2.229,2.294,2.359,2.424],
      "tickSize": {"condition": {"test": "abs((datum.value-0.077)/0.326-round((datum.value-0.077)/0.326))<0.05", "value": -10}, "value": -5}}}}},
  {"data": {"name": "m2"}, "mark": {"type": "line", "color": "#ff0000", "strokeWidth": 1.5, "interpolate": "monotone"},
   "encoding": {
    "x": {"field": "x", "type": "quantitative", "scale": {"domain": [0, 1.018], "nice": false, "zero": false},
     "axis": {"orient": "top", "values": [0,0.0205,0.0409,0.0614,0.0819,0.1023,0.1228,0.1432,0.1637,0.1842,0.2046,0.2251,0.2456,0.266,0.2865,0.307,0.3274,0.3479,0.3684,0.3888,0.4093,0.4297,0.4502,0.4707,0.4911,0.5116,0.5321,0.5525,0.573,0.5935,0.6139,0.6344,0.6549,0.6753,0.6958,0.7162,0.7367,0.7572,0.7776,0.7981,0.8186,0.839,0.8595,0.88,0.9004,0.9209,0.9413,0.9618,0.9823,1.0027],
      "tickSize": {"condition": {"test": "abs(datum.value/0.10232-round(datum.value/0.10232))<0.05", "value": -5}, "value": -2.5}}},
    "y": {"field": "y", "type": "quantitative", "scale": {"domain": [0, 2.44], "nice": false, "zero": false},
     "axis": {"orient": "right", "values": [0.012,0.077,0.142,0.207,0.273,0.338,0.403,0.468,0.533,0.599,0.664,0.729,0.794,0.859,0.925,0.99,1.055,1.12,1.185,1.251,1.316,1.381,1.446,1.511,1.577,1.642,1.707,1.772,1.837,1.903,1.968,2.033,2.098,2.163,2.229,2.294,2.359,2.424],
      "tickSize": {"condition": {"test": "abs((datum.value-0.077)/0.326-round((datum.value-0.077)/0.326))<0.05", "value": -10}, "value": -5}}}}}
 ],
 "resolve": {"scale": {"x": "independent", "y": "independent"}, "axis": {"x": "independent", "y": "independent"}}},
{"width": 509, "height": 244,
 "layer": [
  {"data": {"name": "p3"}, "mark": {"type": "circle", "size": 64, "color": "#000", "opacity": 1},
   "encoding": {
    "x": {"field": "x", "type": "quantitative", "scale": {"domain": [0, 1.018], "nice": false, "zero": false},
     "axis": {"orient": "bottom", "values": [0,0.0205,0.0409,0.0614,0.0819,0.1023,0.1228,0.1432,0.1637,0.1842,0.2046,0.2251,0.2456,0.266,0.2865,0.307,0.3274,0.3479,0.3684,0.3888,0.4093,0.4297,0.4502,0.4707,0.4911,0.5116,0.5321,0.5525,0.573,0.5935,0.6139,0.6344,0.6549,0.6753,0.6958,0.7162,0.7367,0.7572,0.7776,0.7981,0.8186,0.839,0.8595,0.88,0.9004,0.9209,0.9413,0.9618,0.9823,1.0027],
      "tickSize": {"condition": {"test": "abs(datum.value/0.10232-round(datum.value/0.10232))<0.05", "value": -5}, "value": -2.5}}},
    "y": {"field": "y", "type": "quantitative", "scale": {"domain": [0, 2.44], "nice": false, "zero": false},
     "axis": {"orient": "left", "values": [0.057,0.124,0.192,0.259,0.327,0.395,0.462,0.53,0.597,0.665,0.733,0.8,0.868,0.935,1.003,1.071,1.138,1.206,1.273,1.341,1.409,1.476,1.544,1.611,1.679,1.747,1.814,1.882,1.949,2.017,2.085,2.152,2.22,2.287,2.355,2.423],
      "tickSize": {"condition": {"test": "abs((datum.value-0.327)/0.338-round((datum.value-0.327)/0.338))<0.05", "value": -10}, "value": -5}}}}},
  {"data": {"name": "m3"}, "mark": {"type": "line", "color": "#ff0000", "strokeWidth": 1.5, "interpolate": "monotone"},
   "encoding": {
    "x": {"field": "x", "type": "quantitative", "scale": {"domain": [0, 1.018], "nice": false, "zero": false},
     "axis": {"orient": "top", "values": [0,0.0205,0.0409,0.0614,0.0819,0.1023,0.1228,0.1432,0.1637,0.1842,0.2046,0.2251,0.2456,0.266,0.2865,0.307,0.3274,0.3479,0.3684,0.3888,0.4093,0.4297,0.4502,0.4707,0.4911,0.5116,0.5321,0.5525,0.573,0.5935,0.6139,0.6344,0.6549,0.6753,0.6958,0.7162,0.7367,0.7572,0.7776,0.7981,0.8186,0.839,0.8595,0.88,0.9004,0.9209,0.9413,0.9618,0.9823,1.0027],
      "tickSize": {"condition": {"test": "abs(datum.value/0.10232-round(datum.value/0.10232))<0.05", "value": -5}, "value": -2.5}}},
    "y": {"field": "y", "type": "quantitative", "scale": {"domain": [0, 2.44], "nice": false, "zero": false},
     "axis": {"orient": "right", "values": [0.057,0.124,0.192,0.259,0.327,0.395,0.462,0.53,0.597,0.665,0.733,0.8,0.868,0.935,1.003,1.071,1.138,1.206,1.273,1.341,1.409,1.476,1.544,1.611,1.679,1.747,1.814,1.882,1.949,2.017,2.085,2.152,2.22,2.287,2.355,2.423],
      "tickSize": {"condition": {"test": "abs((datum.value-0.327)/0.338-round((datum.value-0.327)/0.338))<0.05", "value": -10}, "value": -5}}}}}
 ],
 "resolve": {"scale": {"x": "independent", "y": "independent"}, "axis": {"x": "independent", "y": "independent"}}}
]
}
